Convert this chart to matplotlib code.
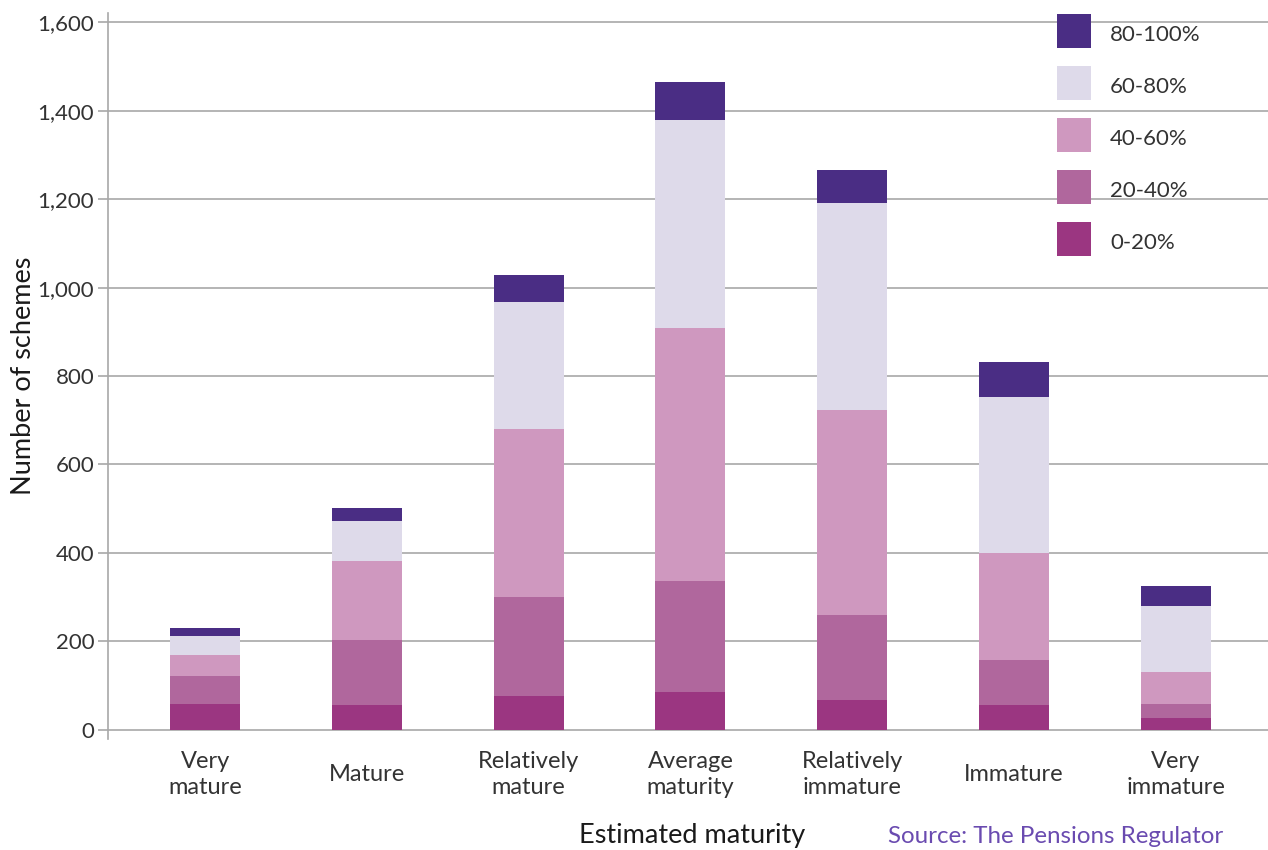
import matplotlib.pyplot as plt
import numpy as np
from matplotlib.lines import Line2D

plt.rcParams['font.family'] = ['Lato', 'DejaVu Sans']

categories = ['Very\nmature', 'Mature', 'Relatively\nmature', 'Average\nmaturity',
              'Relatively\nimmature', 'Immature', 'Very\nimmature']
bands = ['0-20%', '20-40%', '40-60%', '60-80%', '80-100%']

# number of schemes in each funding band, per maturity group
band_0_20 = [58, 56, 76, 85, 67, 56, 26]
band_20_40 = [63, 147, 224, 251, 192, 102, 32]
band_40_60 = [48, 179, 380, 573, 464, 242, 73]
band_60_80 = [43, 90, 287, 470, 468, 352, 149]
band_80_100 = [18, 29, 61, 86, 75, 80, 45]

colors = ['#9b3681', '#b0679d', '#cf98bf', '#dedaea', '#4a2d84']
series = [band_0_20, band_20_40, band_40_60, band_60_80, band_80_100]

fig = plt.figure(figsize=(12.68, 8.5), dpi=100)
ax = fig.add_axes([0.0852, 0.1306, 0.9148, 0.8544])

x = np.arange(len(categories))
bottom = np.zeros(len(categories))
for vals, col in zip(series, colors):
    ax.bar(x, vals, width=0.433, bottom=bottom, color=col, zorder=3)
    bottom += np.array(vals)

ax.set_xlim(-0.6, 6.57)
ax.set_ylim(-21, 1622)
ax.set_yticks(range(0, 1601, 200))
ax.set_yticklabels([f'{v:,}' for v in range(0, 1601, 200)])
ax.yaxis.grid(True, color='#a8a8a8', linewidth=1.2, zorder=0)
ax.set_axisbelow(True)

for s in ['top', 'right', 'bottom']:
    ax.spines[s].set_visible(False)
ax.spines['left'].set_color('#a8a8a8')
ax.spines['left'].set_linewidth(1.2)

ax.tick_params(axis='y', colors='#a8a8a8', labelcolor='#333333', labelsize=16,
               length=7, width=1.2, pad=3)
ax.tick_params(axis='x', length=0, labelsize=17, labelcolor='#333333', pad=25.5)
ax.set_xticks(x)
ax.set_xticklabels(categories, linespacing=1.3)
for lbl in ax.get_xticklabels():
    lbl.set_verticalalignment('center')

ax.set_ylabel('Number of schemes', fontsize=19.5, color='#1a1a1a')
ax.yaxis.set_label_coords(-0.062, 0.5)
fig.text(0.546, 0.008, 'Estimated maturity', fontsize=19.5, color='#1a1a1a', ha='center')
fig.text(0.7, 0.008, 'Source: The Pensions Regulator', fontsize=17.4, color='#6a4bb0', ha='left')

handles = [Line2D([], [], marker='s', markersize=24.5, linestyle='none',
                  markerfacecolor=c, markeredgewidth=0) for c in colors[::-1]]
ax.legend(handles, bands[::-1], loc='upper left', bbox_to_anchor=(0.8249, 0.9895),
          bbox_transform=fig.transFigure, frameon=False, fontsize=16, borderpad=0,
          handlelength=1.53, handleheight=1.53, labelspacing=1.1,
          handletextpad=0.85, labelcolor='#333333')

fig.savefig('out.png', dpi=100)
